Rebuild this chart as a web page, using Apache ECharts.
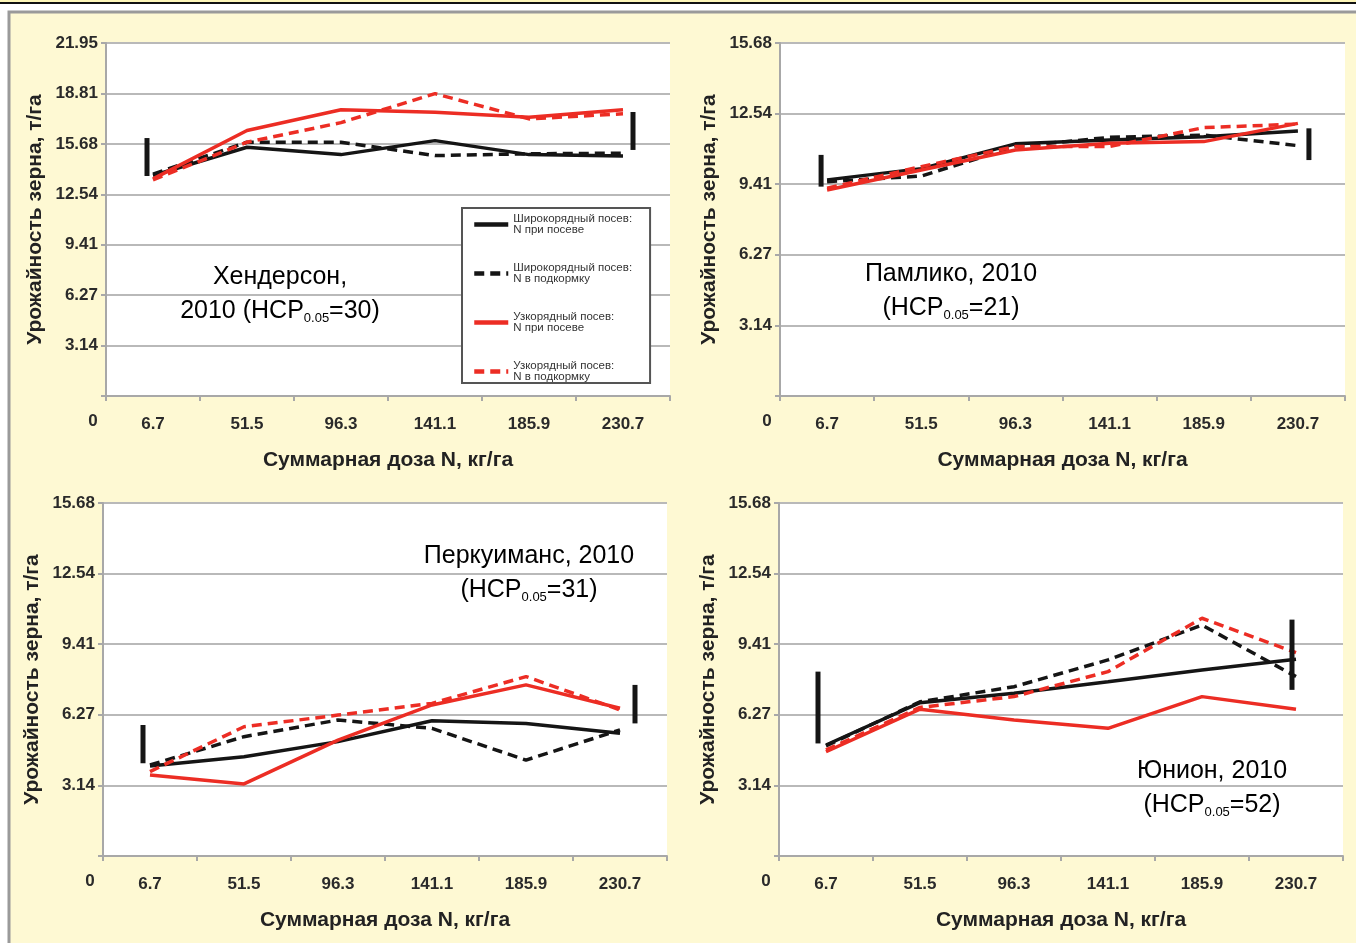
<!DOCTYPE html>
<html>
<head>
<meta charset="utf-8">
<script src="https://cdn.jsdelivr.net/npm/echarts@6/dist/echarts.min.js"></script>
<style>
  html, body { margin: 0; padding: 0; background: #fff; }
  #chart { width: 1356px; height: 943px; }
</style>
</head>
<body>
<div id="chart"></div>
<script>
// categories: total N dose, kg/ha
var categories = ['6.7', '51.5', '96.3', '141.1', '185.9', '230.7'];

var seriesNames = [
    'Широкорядный посев:\nN при посеве',
    'Широкорядный посев:\nN в подкормку',
    'Узкорядный посев:\nN при посеве',
    'Узкорядный посев:\nN в подкормку'
];

// tick labels
var ticksTall = ['0', '3.14', '6.27', '9.41', '12.54', '15.68', '18.81', '21.95'];
var ticksShort = ['0', '3.14', '6.27', '9.41', '12.54', '15.68'];

// Хендерсон
var hendWideSow = [13.71, 15.47, 15.01, 15.88, 15.01, 14.93];
var hendWideTop = [13.80, 15.78, 15.78, 14.95, 15.06, 15.10];
var hendNarrowSow = [13.50, 16.51, 17.80, 17.65, 17.33, 17.80];
var hendNarrowTop = [13.44, 15.78, 17.00, 18.80, 17.23, 17.55];
var hendLsd = [[13.68, 16.04], [15.30, 17.66]];

// Памлико
var pamWideSow = [9.60, 10.10, 11.20, 11.37, 11.52, 11.77];
var pamWideTop = [9.52, 9.77, 11.08, 11.49, 11.59, 11.12];
var pamNarrowSow = [9.15, 10.04, 10.93, 11.23, 11.30, 12.11];
var pamNarrowTop = [9.23, 10.19, 11.08, 11.08, 11.92, 12.08];
var pamLsd = [[9.30, 10.71], [10.48, 11.89]];

// Перкуиманс
var perWideSow = [4.00, 4.41, 5.08, 6.01, 5.89, 5.45];
var perWideTop = [4.04, 5.30, 6.04, 5.67, 4.26, 5.60];
var perNarrowSow = [3.60, 3.20, 5.15, 6.71, 7.60, 6.56];
var perNarrowTop = [3.75, 5.74, 6.26, 6.78, 7.97, 6.49];
var perLsd = [[4.12, 5.82], [5.89, 7.60]];

// Юнион
var unWideSow = [4.93, 6.81, 7.23, 7.74, 8.26, 8.74];
var unWideTop = [4.89, 6.85, 7.52, 8.71, 10.26, 7.97];
var unNarrowSow = [4.63, 6.52, 6.04, 5.67, 7.08, 6.52];
var unNarrowTop = [4.71, 6.60, 7.08, 8.19, 10.56, 9.03];
var unLsd = [[5.00, 8.19], [7.38, 10.50]];

var FONT = "'Liberation Sans', Arial, sans-serif";
var RED = '#ec2d24';
var BLACK = '#151515';

var panels = [
    { grid: { left: 106, top: 43, width: 564, height: 353 }, ticks: ticksTall,
      data: [hendWideSow, hendWideTop, hendNarrowSow, hendNarrowTop], lsd: hendLsd, lsdShift: [-6, 10],
      title: ['Хендерсон,', '2010 (НСР', '=30)'], tx: 280, ty: 260 },
    { grid: { left: 780, top: 43, width: 565, height: 353 }, ticks: ticksShort,
      data: [pamWideSow, pamWideTop, pamNarrowSow, pamNarrowTop], lsd: pamLsd, lsdShift: [-6, 11],
      title: ['Памлико, 2010', '(НСР', '=21)'], tx: 951, ty: 257 },
    { grid: { left: 103, top: 503, width: 564, height: 353 }, ticks: ticksShort,
      data: [perWideSow, perWideTop, perNarrowSow, perNarrowTop], lsd: perLsd, lsdShift: [-7, 15],
      title: ['Перкуиманс, 2010', '(НСР', '=31)'], tx: 529, ty: 539 },
    { grid: { left: 779, top: 503, width: 564, height: 353 }, ticks: ticksShort,
      data: [unWideSow, unWideTop, unNarrowSow, unNarrowTop], lsd: unLsd, lsdShift: [-8, -4],
      title: ['Юнион, 2010', '(НСР', '=52)'], tx: 1212, ty: 754 }
];

var lineStyles = [
    { color: BLACK, type: 'solid' },
    { color: BLACK, type: [10, 6] },
    { color: RED, type: 'solid' },
    { color: RED, type: [10, 6] }
];

var grids = [], xAxes = [], yAxes = [], series = [];
var graphics = [
    { type: 'rect', shape: { x: 0, y: 0, width: 1356, height: 2 }, style: { fill: '#fdf6b8' }, silent: true },
    { type: 'rect', shape: { x: 0, y: 2, width: 1356, height: 2 }, style: { fill: '#111' }, silent: true },
    { type: 'rect', shape: { x: 9, y: 12, width: 1400, height: 1000 },
      style: { fill: '#fef9d3', stroke: '#9a9a9a', lineWidth: 3 }, silent: true, z: -10 }
];

panels.forEach(function (p, i) {
    var ymax = parseFloat(p.ticks[p.ticks.length - 1]);
    grids.push({
        left: p.grid.left, top: p.grid.top, width: p.grid.width, height: p.grid.height,
        show: true, backgroundColor: '#fff', borderWidth: 0
    });
    xAxes.push({
        type: 'category', gridIndex: i, data: categories, boundaryGap: true,
        name: 'Суммарная доза N, кг/га', nameLocation: 'middle', nameGap: 54,
        nameTextStyle: { fontFamily: FONT, fontSize: 21, fontWeight: 'bold', color: '#222' },
        axisLine: { lineStyle: { color: '#a8a8a8', width: 2 } },
        axisTick: { show: true, length: 5, lineStyle: { color: '#a8a8a8', width: 2 } },
        axisLabel: { fontFamily: FONT, fontSize: 17, fontWeight: 'bold', color: '#2a2a2a', margin: 20 },
        splitLine: { show: false }
    });
    yAxes.push({
        type: 'value', gridIndex: i, min: 0, max: ymax, interval: ymax / (p.ticks.length - 1),
        name: 'Урожайность зерна, т/га', nameLocation: 'middle', nameGap: 60,
        nameTextStyle: { fontFamily: FONT, fontSize: 21, fontWeight: 'bold', color: '#222' },
        axisLine: { show: true, lineStyle: { color: '#a8a8a8', width: 2 } },
        axisTick: { show: true, length: 5, lineStyle: { color: '#a8a8a8', width: 2 } },
        axisLabel: {
            fontFamily: FONT, fontSize: 17, fontWeight: 'bold', color: '#2a2a2a', margin: 8,
            formatter: function (v, idx) { return idx === 0 ? '' : p.ticks[idx]; }
        },
        splitLine: { show: true, lineStyle: { color: '#b9b9b9', width: 2 } }
    });
    p.data.forEach(function (d, k) {
        series.push({
            name: seriesNames[k], type: 'line', xAxisIndex: i, yAxisIndex: i,
            data: d, symbol: 'none', showSymbol: false,
            lineStyle: { color: lineStyles[k].color, type: lineStyles[k].type, width: 3.5 },
            itemStyle: { color: lineStyles[k].color },
            z: 3 + k
        });
    });
    // НСР bars
    series.push({
        type: 'custom', xAxisIndex: i, yAxisIndex: i, z: 10,
        data: [[0, p.lsd[0][0], p.lsd[0][1]], [5, p.lsd[1][0], p.lsd[1][1]]],
        encode: { x: 0, y: [1, 2] },
        renderItem: function (params, api) {
            var a = api.coord([api.value(0), api.value(1)]);
            var b = api.coord([api.value(0), api.value(2)]);
            var dx = p.lsdShift[params.dataIndex];
            return {
                type: 'line',
                shape: { x1: a[0] + dx, y1: a[1], x2: b[0] + dx, y2: b[1] },
                style: { stroke: BLACK, lineWidth: 5 }
            };
        }
    });
    // "0" label below the origin
    graphics.push({
        type: 'text', x: p.grid.left - 13, y: p.grid.top + p.grid.height + 25,
        style: { text: '0', fontFamily: FONT, fontSize: 17, fontWeight: 'bold', fill: '#2a2a2a',
                 align: 'center', verticalAlign: 'middle' }
    });
    // site label
    graphics.push({
        type: 'text', x: p.tx, y: p.ty, z: 20,
        style: {
            text: '{a|' + p.title[0] + '}\n{a|' + p.title[1] + '}{s|0.05}{a|' + p.title[2] + '}',
            align: 'center', verticalAlign: 'top',
            rich: {
                a: { fontFamily: FONT, fontSize: 25, color: '#1a1a1a', lineHeight: 34 },
                s: { fontFamily: FONT, fontSize: 13, color: '#1a1a1a', lineHeight: 34, padding: [15, 0, 0, 0] }
            }
        }
    });
});

var chart = echarts.init(document.getElementById('chart'));
chart.setOption({
    animation: false,
    backgroundColor: 'transparent',
    grid: grids,
    xAxis: xAxes,
    yAxis: yAxes,
    legend: {
        data: seriesNames,
        orient: 'vertical', left: 462, top: 208,
        backgroundColor: '#fff', borderColor: '#555', borderWidth: 2,
        padding: [5, 18, 0, 10],
        itemWidth: 34, itemHeight: 12, itemGap: 26,
        itemStyle: { color: 'rgba(0,0,0,0)', borderWidth: 0, opacity: 0 },
        lineStyle: { width: 4.5 },
        textStyle: { fontFamily: FONT, fontSize: 11.5, color: '#333', lineHeight: 11 }
    },
    graphic: graphics,
    series: series
});
</script>
</body>
</html>
